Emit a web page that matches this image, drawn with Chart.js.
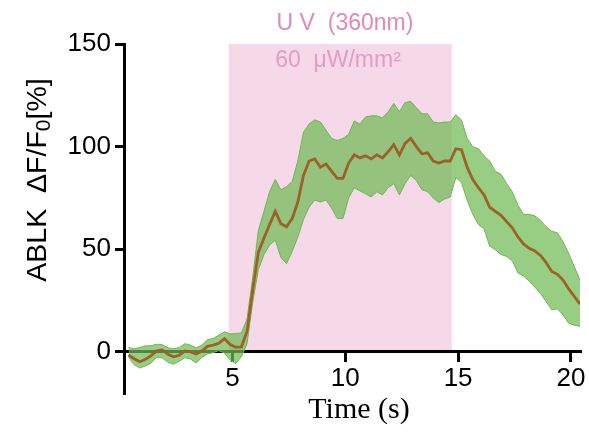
<!DOCTYPE html>
<html>
<head>
<meta charset="utf-8">
<title>ABLK response to UV</title>
<script src="https://cdn.jsdelivr.net/npm/chart.js@4.4.1/dist/chart.umd.min.js"></script>
<style>
  html, body { margin: 0; padding: 0; background: #fff; }
  canvas { display: block; }
</style>
</head>
<body>
<canvas id="ablk" width="589" height="432"></canvas>
<script>
// time points (s)
const times = [
  0.4, 0.65, 0.9, 1.15, 1.4, 1.65, 1.9, 2.15, 2.4, 2.65,
  2.9, 3.15, 3.4, 3.65, 3.9, 4.15, 4.4, 4.65, 4.9, 5.15,
  5.4, 5.65, 5.9, 6.15, 6.4, 6.65, 6.9, 7.15, 7.4, 7.65,
  7.9, 8.15, 8.4, 8.65, 8.9, 9.15, 9.4, 9.65, 9.9, 10.15,
  10.4, 10.65, 10.9, 11.15, 11.4, 11.65, 11.9, 12.15, 12.4, 12.65,
  12.9, 13.15, 13.4, 13.65, 13.9, 14.15, 14.4, 14.65, 14.9, 15.15,
  15.4, 15.65, 15.9, 16.15, 16.4, 16.65, 16.9, 17.15, 17.4, 17.65,
  17.9, 18.15, 18.4, 18.65, 18.9, 19.15, 19.4, 19.65, 19.9, 20.15,
  20.4
];

// mean dF/F0 (%)
const meanVals = [
  -1.5, -3.3, -4.8, -3.6, -1.8, 0.5, 1, -1.2, -2.4, -1.6,
  0.5, 0, -1, 0.4, 2.7, 3.3, 4.2, 6.5, 3.6, 2.3,
  2.5, 10, 30, 48.5, 55.5, 62, 68.5, 62.5, 61, 65,
  73, 86, 93, 94, 90, 91.5, 88, 84.5, 84.5, 92,
  96, 94.5, 95.5, 94, 96, 94.5, 97.5, 101, 96, 101.6,
  104, 100, 96.5, 97, 93, 92, 93, 93, 99, 98.5,
  90, 84, 80, 76.5, 70.5, 68.5, 66.5, 63.5, 60.5, 56,
  52.6, 50.5, 49.2, 47, 43.5, 39.2, 37.8, 35, 30.7, 27,
  23.3
];

// upper edge of error band
const upperVals = [
  2.2, 1.5, 2.2, 3, 3, 3.8, 3.5, 2, 1.5, 2.2,
  4, 3.3, 2, 3.3, 6, 6.5, 8.2, 9.8, 8.8, 9,
  9.2, 16, 36, 59, 68.5, 78, 84, 79, 80.5, 83,
  93, 107, 111, 113, 112, 108, 104, 103, 104, 106,
  112.5, 111, 114.5, 115, 115, 114, 117, 121, 117, 121.5,
  122, 119, 116, 116, 112, 111.5, 112, 112, 115.5, 113,
  104, 100, 99, 95.5, 93, 88, 86.5, 82, 78, 71.5,
  67, 67, 66.3, 64, 61, 58.8, 58, 53.6, 48, 41.5,
  35
];

// lower edge of error band
const lowerVals = [
  -2.6, -6.2, -7.8, -6.8, -5.5, -2.5, -3, -5, -6, -4.5,
  -2.8, -3.5, -5.4, -2.7, -1, -0.3, 0.6, -0.5, -4, -5.6,
  -2.4, 4, 24, 40, 47.5, 52, 54.5, 46, 43, 49,
  56, 64.5, 70.5, 74, 73, 74, 70, 65, 65, 75,
  80, 78.5, 77, 75.5, 78, 76.5, 80, 82, 76.5, 82,
  86, 83.5, 79, 78, 75, 72.8, 74.5, 75.5, 85, 82.5,
  74, 67, 62, 60, 51.5, 49.8, 47.5, 46.5, 44.5, 38.5,
  37, 34.5, 31.5, 28.5, 24.5, 20.5, 21, 18, 14, 13,
  12.5
];

const xTicks = [5, 10, 15, 20];
const yTicks = [0, 50, 100, 150];

// UV stimulus window (s)
const uvStart = 4.84;
const uvEnd = 14.72;

const pts = vals => times.map((t, i) => ({ x: t, y: vals[i] }));

const SANS = '"Liberation Sans", Arial, sans-serif';

const decor = {
  id: 'decor',
  beforeDraw(chart) {
    const { ctx, scales: { x, y } } = chart;
    const l = x.getPixelForValue(uvStart);
    const r = x.getPixelForValue(uvEnd);
    const t = y.getPixelForValue(150);
    const b = y.getPixelForValue(0);
    ctx.save();
    ctx.fillStyle = '#f5d9e8';
    ctx.fillRect(l, t, r - l, b - t);
    ctx.restore();
  },
  afterDraw(chart) {
    const ctx = chart.ctx;
    ctx.save();
    ctx.textAlign = 'center';
    ctx.textBaseline = 'middle';

    // UV label
    ctx.font = '23px ' + SANS;
    ctx.fillStyle = '#e288bc';
    ctx.fillText('U V  (360nm)', 345, 24);
    ctx.fillStyle = '#e39cc5';
    ctx.fillText('60  \u03bcW/mm\u00b2', 338, 61);

    // x title
    ctx.fillStyle = '#000';
    ctx.font = '30px "Liberation Serif", "Times New Roman", serif';
    ctx.fillText('Time (s)', 359, 410);

    // y title with subscript
    ctx.translate(36, 180);
    ctx.rotate(-Math.PI / 2);
    ctx.textAlign = 'left';
    ctx.textBaseline = 'alphabetic';
    const big = '28.5px ' + SANS, small = '21px ' + SANS;
    const p1 = 'ABLK  \u0394F/F', p2 = '0', p3 = '[%]';
    ctx.font = big; const w1 = ctx.measureText(p1).width, w3 = ctx.measureText(p3).width;
    ctx.font = small; const w2 = ctx.measureText(p2).width;
    let sx = -(w1 + w2 + w3) / 2;
    ctx.font = big; ctx.fillText(p1, sx, 10); sx += w1;
    ctx.font = small; ctx.fillText(p2, sx, 14); sx += w2;
    ctx.font = big; ctx.fillText(p3, sx, 10);
    ctx.restore();
  }
};

new Chart(document.getElementById('ablk'), {
  type: 'line',
  data: {
    datasets: [
      {
        label: 'mean',
        data: pts(meanVals),
        borderColor: '#9c6128',
        borderWidth: 2.8,
        pointRadius: 0,
        fill: false,
        tension: 0
      },
      {
        label: 'upper',
        data: pts(upperVals),
        borderColor: '#6fb552',
        borderWidth: 1,
        backgroundColor: 'rgba(112,186,84,0.72)',
        pointRadius: 0,
        fill: '+1',
        tension: 0
      },
      {
        label: 'lower',
        data: pts(lowerVals),
        borderColor: '#6fb552',
        borderWidth: 1,
        pointRadius: 0,
        fill: false,
        tension: 0
      }
    ]
  },
  options: {
    responsive: false,
    animation: false,
    layout: { padding: { left: 0, right: 9, top: 44, bottom: 39 } },
    plugins: { legend: { display: false }, tooltip: { enabled: false } },
    scales: {
      x: {
        type: 'linear',
        min: 0.2,
        max: 20.4,
        position: { y: 0 },
        afterBuildTicks: s => { s.ticks = xTicks.map(v => ({ value: v })); },
        grid: { drawOnChartArea: false, drawTicks: true, tickLength: 9, color: '#000', lineWidth: 3 },
        border: { display: true, color: '#000', width: 3 },
        ticks: { color: '#000', font: { family: SANS, size: 26 }, padding: 2, maxRotation: 0 }
      },
      y: {
        min: -20,
        max: 150,
        position: 'left',
        afterBuildTicks: s => { s.ticks = yTicks.map(v => ({ value: v })); },
        afterFit: s => { s.width = 124; },
        grid: { drawOnChartArea: false, drawTicks: true, tickLength: 9, color: '#000', lineWidth: 3 },
        border: { display: true, color: '#000', width: 3 },
        ticks: { color: '#000', font: { family: SANS, size: 26 }, padding: 4 }
      }
    }
  },
  plugins: [decor]
});
</script>
</body>
</html>
